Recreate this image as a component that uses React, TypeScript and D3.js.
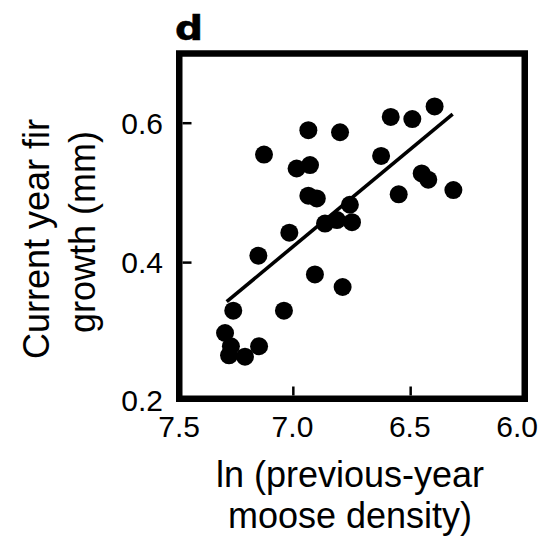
import React from "react";
import * as d3 from "d3";

const densityX: number[] = [
  6.936, 6.801, 7.125, 6.986, 6.929, 6.936, 6.9, 7.017, 7.149, 6.908,
  6.79, 7.256, 7.04, 7.291, 7.266, 7.274, 7.206, 7.146, 6.759, 6.865,
  6.814, 6.75, 6.585, 6.493, 6.398, 6.626, 6.453, 6.425, 6.318, 6.551,
];
const growthY: number[] = [
  0.59, 0.587, 0.555, 0.535, 0.54, 0.496, 0.492, 0.443, 0.41, 0.383,
  0.365, 0.331, 0.331, 0.299, 0.28, 0.267, 0.265, 0.28, 0.483, 0.456,
  0.461, 0.458, 0.609, 0.606, 0.624, 0.553, 0.528, 0.519, 0.504, 0.498,
];
const fitX: number[] = [7.284, 6.321];
const fitY: number[] = [0.344, 0.613];

const xTicks: number[] = [7.5, 7.0, 6.5, 6.0];
const yTicks: number[] = [0.2, 0.4, 0.6];
const xTitle: string[] = ["ln (previous-year", "moose density)"];
const yTitle: string[] = ["Current year fir", "growth (mm)"];
const panelLabel = "d";

const W = 548;
const H = 541;
const FONT = "'Liberation Sans', Arial, Helvetica, sans-serif";

export default function App() {
  const x = d3.scaleLinear().domain([7.5, 6.0]).range([176, 528]);
  const y = d3.scaleLinear().domain([0.2, 0.7]).range([402, 53.5]);
  const frameW = 6.5;
  const half = frameW / 2;
  const left = x(7.5) + half;
  const right = x(6.0) - half;
  const bottom = y(0.2) - half;
  const top = y(0.7);

  const line = d3
    .line<number>()
    .x((_, i) => x(fitX[i]))
    .y((_, i) => y(fitY[i]));

  return (
    <svg
      width={W}
      height={H}
      style={{ position: "absolute", left: 0, top: 0, background: "#fff" }}
      fontFamily={FONT}
    >
      <rect width={W} height={H} fill="#fff" />
      <text
        x={0}
        y={0}
        fontSize={34}
        fontWeight="bold"
        fontFamily="'DejaVu Sans', sans-serif"
        transform="translate(175,40) scale(1.15,1)"
        fill="#000"
        stroke="#000"
        strokeWidth={0.6}
      >
        {panelLabel}
      </text>

      {densityX.map((dx, i) => (
        <circle key={i} cx={x(dx)} cy={y(growthY[i])} r={9} fill="#000" />
      ))}
      <path d={line([0, 1]) || ""} stroke="#000" strokeWidth={3.6} fill="none" />

      <rect
        x={left}
        y={top}
        width={right - left}
        height={bottom - top}
        fill="none"
        stroke="#000"
        strokeWidth={frameW}
      />

      {yTicks
        .filter((t) => t > 0.2)
        .map((t) => (
          <line key={t} x1={left + half} x2={left + half + 9} y1={y(t)} y2={y(t)} stroke="#000" strokeWidth={2.5} />
        ))}
      {xTicks
        .filter((t) => t < 7.5 && t > 6.0)
        .map((t) => (
          <line key={t} x1={x(t)} x2={x(t)} y1={bottom - half} y2={bottom - half - 9} stroke="#000" strokeWidth={2.5} />
        ))}

      {yTicks.map((t) => (
        <text key={t} x={163} y={y(t)} dy={t === 0.2 ? "0.3em" : "0.36em"} textAnchor="end" fontSize={30} fill="#000">
          {t.toFixed(1)}
        </text>
      ))}
      {xTicks.map((t, i) => (
        <text
          key={t}
          x={i === xTicks.length - 1 ? x(t) + 10 : i === 0 ? x(t) + 24 : x(t) + 20}
          y={437}
          textAnchor="end"
          fontSize={30}
          fill="#000"
        >
          {t.toFixed(1)}
        </text>
      ))}

      {xTitle.map((s, i) => (
        <text key={s} x={350} y={487 + i * 41} textAnchor="middle" fontSize={36} fill="#000">
          {s}
        </text>
      ))}
      {yTitle.map((s, i) => (
        <text
          key={s}
          transform={`translate(${i === 0 ? 49 : 95},${i === 0 ? 239 : 232}) rotate(-90)`}
          textAnchor="middle"
          fontSize={36}
          fill="#000"
        >
          {s}
        </text>
      ))}
    </svg>
  );
}
